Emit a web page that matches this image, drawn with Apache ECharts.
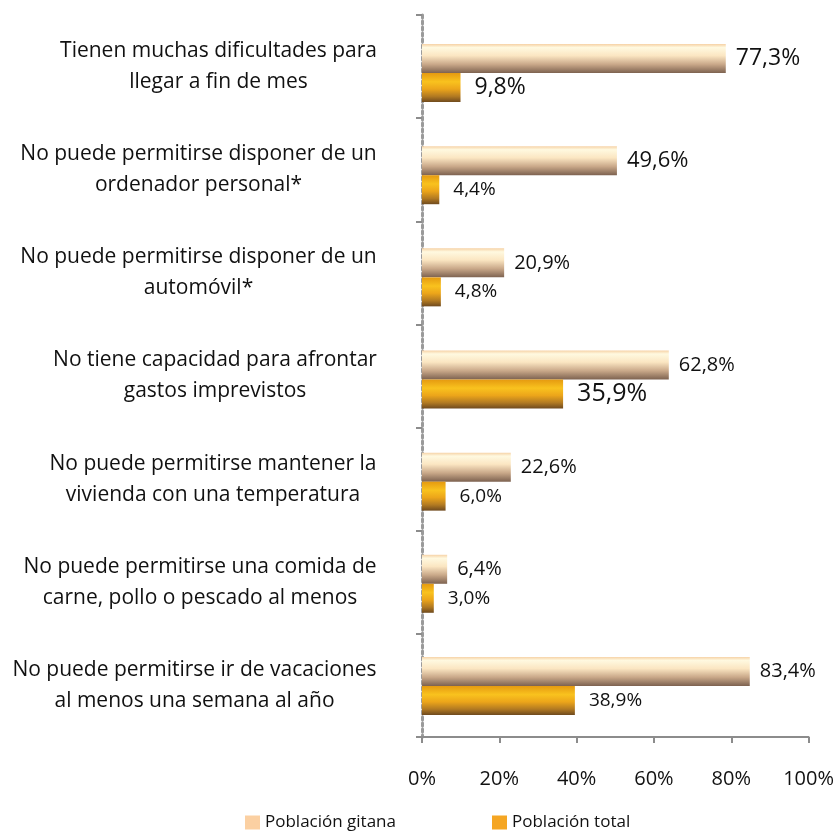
<!DOCTYPE html>
<html>
<head>
<meta charset="utf-8">
<script src="https://cdn.jsdelivr.net/npm/echarts@6/dist/echarts.min.js"></script>
<style>
    html, body { margin: 0; padding: 0; background: #fff; }
    #barChart { width: 837px; height: 833px; }
</style>
</head>
<body>
<div id="barChart"></div>
<script>
    // categorias (de arriba abajo)
    let categories = [
        'Tienen muchas dificultades para\nllegar a fin de mes',
        'No puede permitirse disponer de un\nordenador personal*',
        'No puede permitirse disponer de un\nautomóvil*',
        'No tiene capacidad para afrontar\ngastos imprevistos',
        'No puede permitirse mantener la\nvivienda con una temperatura',
        'No puede permitirse una comida de\ncarne, pollo o pescado al menos',
        'No puede permitirse ir de vacaciones\nal menos una semana al año'
    ]
    let gitana = [77.3, 49.6, 20.9, 62.8, 22.6, 6.4, 83.4]
    let total = [9.8, 4.4, 4.8, 35.9, 6.0, 3.0, 38.9]
    let xTicks = [0, 20, 40, 60, 80, 100]

    // etiquetas mas grandes en algunos valores
    let bigGitana = {0: 23, 1: 22}
    let bigTotal = {0: 23, 3: 25}

    let fmt = v => v.toFixed(1).replace('.', ',') + '%'

    let font = 'Open Sans'
    let catFont = 21
    // medir cada categoria para centrar las lineas dentro de un bloque alineado a la derecha
    let ctx = document.createElement('canvas').getContext('2d')
    ctx.font = catFont + 'px "' + font + '"'
    let rich = {}
    categories.forEach((c, i) => {
        let w = Math.max(...c.split('\n').map(l => ctx.measureText(l).width))
        rich['l' + i] = {
            width: Math.ceil(w) + 2,
            align: 'center',
            fontSize: catFont,
            lineHeight: 31,
            fontFamily: font,
            color: '#111'
        }
    })

    let myChart = echarts.init(document.getElementById('barChart'))

    let gitanaColor = new echarts.graphic.LinearGradient(0, 0, 0, 1, [
        {offset: 0, color: '#f6d2a6'},
        {offset: 0.12, color: '#fff9e0'},
        {offset: 0.4, color: '#fbe6c2'},
        {offset: 0.7, color: '#c9a889'},
        {offset: 1, color: '#7d6250'}
    ])
    let totalColor = new echarts.graphic.LinearGradient(0, 0, 0, 1, [
        {offset: 0, color: '#e59a10'},
        {offset: 0.3, color: '#f9c21e'},
        {offset: 0.55, color: '#eca51a'},
        {offset: 0.8, color: '#b27a22'},
        {offset: 1, color: '#6f4a1e'}
    ])

    let options = {
        animation: false,
        textStyle: {fontFamily: font},
        legend: {
            top: 809,
            left: 240,
            itemGap: 96,
            itemWidth: 15,
            itemHeight: 14,
            icon: 'rect',
            textStyle: {fontSize: 17, color: '#111', fontFamily: font},
            data: [
                {name: 'Población gitana', itemStyle: {color: '#fbd0a2'}},
                {name: 'Población total', itemStyle: {color: '#f5a623'}}
            ]
        },
        // grid 0: ejes visibles; grid 1: barras (algo desplazadas hacia abajo como en el original)
        grid: [
            {left: 422, right: 22, top: 15, bottom: 96},
            {left: 422, right: 22, top: 22, bottom: 96}
        ],
        xAxis: [{
            gridIndex: 0,
            type: 'value',
            min: 0,
            max: 100,
            interval: 20,
            axisLine: {show: true, lineStyle: {color: '#8c8c8c', width: 2}},
            axisTick: {show: true, length: 6, inside: false, lineStyle: {color: '#8c8c8c', width: 2}},
            splitLine: {show: false},
            axisLabel: {
                margin: 32,
                fontSize: 20,
                color: '#111',
                formatter: v => xTicks.indexOf(v) >= 0 ? v + '%' : ''
            }
        }, {
            gridIndex: 1,
            type: 'value',
            min: 0,
            max: 100,
            show: false
        }],
        yAxis: [{
            gridIndex: 0,
            type: 'category',
            inverse: true,
            data: categories,
            axisLine: {show: true, lineStyle: {color: '#9a9a9a', width: 3, type: 'dotted'}},
            axisTick: {show: true, length: 6, lineStyle: {color: '#8c8c8c', width: 2}},
            axisLabel: {
                margin: 44,
                align: 'right',
                formatter: (v, i) => v.split('\n').map(l => '{l' + i + '|' + l + '}').join('\n'),
                rich: rich
            }
        }, {
            gridIndex: 1,
            type: 'category',
            inverse: true,
            data: categories,
            show: false
        }],
        series: [{
            name: 'Población gitana',
            type: 'bar',
            xAxisIndex: 1,
            yAxisIndex: 1,
            barWidth: 29,
            barGap: '0%',
            itemStyle: {color: gitanaColor},
            label: {
                show: true,
                position: 'right',
                distance: 10,
                color: '#111',
                fontSize: 20,
                formatter: p => fmt(p.value)
            },
            data: gitana.map((v, i) => ({
                value: v,
                label: bigGitana[i] ? {fontSize: bigGitana[i]} : {}
            }))
        }, {
            name: 'Población total',
            type: 'bar',
            xAxisIndex: 1,
            yAxisIndex: 1,
            barWidth: 29,
            itemStyle: {color: totalColor},
            label: {
                show: true,
                position: 'right',
                distance: 14,
                color: '#111',
                fontSize: 19,
                formatter: p => fmt(p.value)
            },
            data: total.map((v, i) => ({
                value: v,
                label: bigTotal[i] ? {fontSize: bigTotal[i]} : {}
            }))
        }]
    }
    myChart.setOption(options)
</script>
</body>
</html>
